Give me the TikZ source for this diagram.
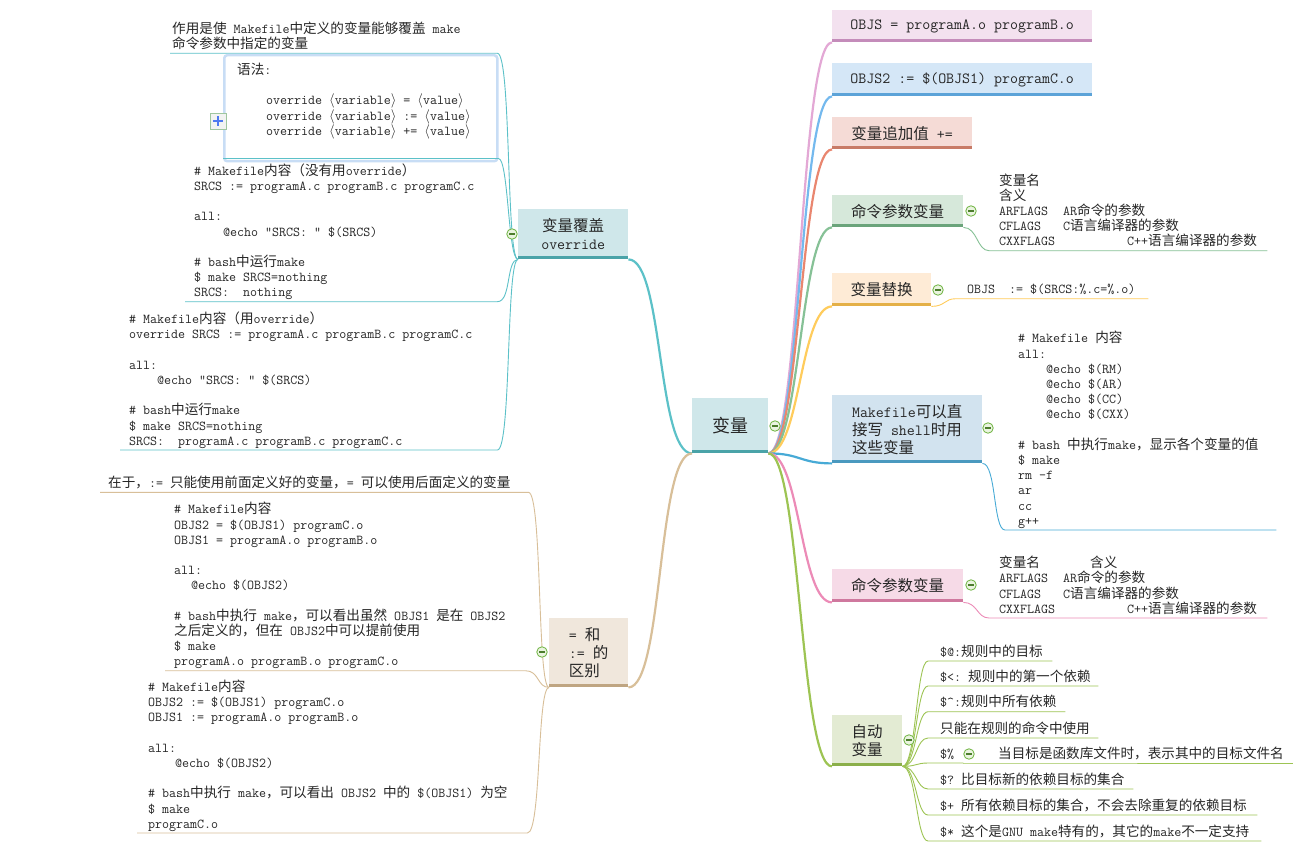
\documentclass[tikz,border=0pt]{standalone}
\usepackage{fontspec}
\newfontfamily\cjk{Noto Sans CJK SC}
% Chinese characters switch to the CJK family, everything else stays typewriter
\XeTeXinterchartokenstate=1
\chardef\zhclass=9
\count255="2E80
\loop\XeTeXcharclass\count255=\zhclass\advance\count255 by 1 \ifnum\count255<"A000 \repeat
\count255="FF00
\loop\XeTeXcharclass\count255=\zhclass\advance\count255 by 1 \ifnum\count255<"FFF0 \repeat
\XeTeXinterchartoks 0 \zhclass={\cjk}
\XeTeXinterchartoks 4095 \zhclass={\cjk}
\XeTeXinterchartoks \zhclass 0={\ttfamily}
\XeTeXinterchartoks \zhclass 4095={\ttfamily}
\newcommand\codetab[1][28pt]{\hspace*{#1}}
\newcommand\openang{\ensuremath{\langle}}
\newcommand\closeang{\ensuremath{\rangle}}
\definecolor{ink}{HTML}{262626}
\definecolor{rootfill}{HTML}{CFE7EA}
\definecolor{rootbar}{HTML}{4AA3A8}
\definecolor{ovrline}{HTML}{5CC1C8}
\definecolor{difffill}{HTML}{F0E7DC}
\definecolor{diffbar}{HTML}{BFA582}
\definecolor{diffline}{HTML}{D8BF99}
\definecolor{objfill}{HTML}{F3E1EF}
\definecolor{objbar}{HTML}{C48CBA}
\definecolor{objline}{HTML}{E3A8D5}
\definecolor{objtwofill}{HTML}{D5E7F7}
\definecolor{objtwobar}{HTML}{5CA3D8}
\definecolor{objtwoline}{HTML}{74B9EE}
\definecolor{appfill}{HTML}{F5DBD6}
\definecolor{appbar}{HTML}{C87B67}
\definecolor{appline}{HTML}{E9866F}
\definecolor{cmdfill}{HTML}{D6E8DA}
\definecolor{cmdbar}{HTML}{6BA47B}
\definecolor{cmdline}{HTML}{86C196}
\definecolor{subfill}{HTML}{FEEBD6}
\definecolor{subbar}{HTML}{E4B048}
\definecolor{subline}{HTML}{FFCC5C}
\definecolor{shfill}{HTML}{D2E3EF}
\definecolor{shbar}{HTML}{4A99BF}
\definecolor{shline}{HTML}{47AAD6}
\definecolor{cmdtwofill}{HTML}{F6DAE7}
\definecolor{cmdtwobar}{HTML}{CF789E}
\definecolor{cmdtwoline}{HTML}{EC8BB7}
\definecolor{autofill}{HTML}{E3EBD3}
\definecolor{autobar}{HTML}{8BAF4A}
\definecolor{autoline}{HTML}{9DC453}
\definecolor{foldgreen}{HTML}{6DB33F}
\definecolor{foldfill}{HTML}{EAF4E0}
\definecolor{synborder}{HTML}{C8DDF5}
\definecolor{plusblue}{HTML}{4F79F0}
\begin{document}
\begin{tikzpicture}[x=1pt,y=-1pt,
    branch/.style={anchor=north west, inner sep=0pt, align=flush center, text=ink,
      font=\fontsize{15.5}{18}\selectfont\ttfamily},
    leaf/.style={anchor=south west, inner ysep=0pt, align=flush left, text=ink,
      font=\fontsize{13.6}{15.2}\selectfont\ttfamily, execute at end node=\strut},
    trunk/.style={line width=2.2pt},
    twig/.style={line width=0.9pt},
    bar/.style={line width=3pt},
    fold/.style={circle, draw=foldgreen, line width=0.8pt, fill=foldfill, minimum size=10.5pt, inner sep=0pt,
      path picture={\draw[foldgreen!70!black, line width=1.3pt]
        ([xshift=-2.6pt]path picture bounding box.center) -- ([xshift=2.6pt]path picture bounding box.center);}},
    synbox/.style={anchor=north west, draw=synborder, line width=2.5pt, rounded corners=3pt, fill=white, inner sep=0pt},
    expand/.style={draw=green!25!gray!60, fill=green!5!gray!10, minimum size=16pt, inner sep=0pt,
      path picture={\draw[plusblue, line width=2.2pt]
        ([xshift=-5pt]path picture bounding box.center) -- ([xshift=5pt]path picture bounding box.center)
        ([yshift=-5pt]path picture bounding box.center) -- ([yshift=5pt]path picture bounding box.center);}}]
  \fill[white] (0,0) rectangle (1296,848);
  \useasboundingbox (0,0) rectangle (1296,848);

  % main topics
  \node[branch, fill=rootfill, minimum width=76pt, minimum height=55pt, font=\fontsize{18}{20}\selectfont\ttfamily] (root) at (692,398) {变量};
  \node[branch, fill=rootfill, minimum width=110pt, minimum height=50pt] (ovr) at (518,209) {变量覆盖\\override};
  \node[branch, fill=difffill, minimum width=79pt, minimum height=69pt, align=flush left] (diff) at (549,618) {= 和\\:= 的\\区别};
  \node[branch, fill=objfill, minimum width=260pt, minimum height=32pt] (objs) at (832,10) {OBJS = programA.o programB.o};
  \node[branch, fill=objtwofill, minimum width=260pt, minimum height=33pt] (objs2) at (832,63) {OBJS2 := \$(OBJS1) programC.o};
  \node[branch, fill=appfill, minimum width=140pt, minimum height=32pt] (append) at (832,117) {变量追加值 +=};
  \node[branch, fill=cmdfill, minimum width=131pt, minimum height=32pt] (cmd) at (832,195) {命令参数变量};
  \node[branch, fill=subfill, minimum width=99pt, minimum height=33pt] (subst) at (832,273) {变量替换};
  \node[branch, fill=shfill, minimum width=150pt, minimum height=68pt, align=flush left] (shell) at (832,395) {Makefile可以直\\接写 shell时用\\这些变量};
  \node[branch, fill=cmdtwofill, minimum width=131pt, minimum height=33pt] (cmd2) at (832,569) {命令参数变量};
  \node[branch, fill=autofill, minimum width=70pt, minimum height=51pt] (auto) at (832,715) {自动\\变量};

  \foreach \n/\c in {objs/objline,objs2/objtwoline,append/appline,cmd/cmdline,subst/subline,shell/shline,cmd2/cmdtwoline,auto/autoline}
    \draw[trunk,\c] (root.south east) .. controls +(32,0) and +(-32,0) .. (\n.south west);
  \draw[trunk,ovrline] (root.south west) .. controls +(-35,0) and +(35,0) .. (ovr.south east);
  \draw[trunk,diffline] (root.south west) .. controls +(-35,0) and +(35,0) .. (diff.south east);
  \foreach \n/\c in {root/rootbar,ovr/rootbar,diff/diffbar,objs/objbar,objs2/objtwobar,append/appbar,cmd/cmdbar,subst/subbar,shell/shbar,cmd2/cmdtwobar,auto/autobar}
    \draw[bar,\c] ([yshift=1.5pt]\n.south west) -- ([yshift=1.5pt]\n.south east);

  % override
  \node[leaf, inner xsep=2pt, text width=323pt] (purpose) at (170,53.3) {作用是使 Makefile中定义的变量能够覆盖 make\\命令参数中指定的变量};
  \draw[twig,ovrline] (purpose.south west) -- (purpose.south east) .. controls +(14,0) and +(-12,0) .. (ovr.south west);
  \node[synbox, minimum width=273pt, minimum height=106pt] (syntax) at (223,54) {};
  \draw[twig,ovrline] ([yshift=4pt]syntax.south west) -- ([yshift=4pt]syntax.south east) .. controls +(10,0) and +(-10,0) .. (ovr.south west);
  \node[leaf, inner sep=0pt, text depth=0pt] (syntext) at (237,135.5) {语法:\\[\baselineskip]
    \codetab[29pt]override \openang variable\closeang{} = \openang value\closeang\\
    \codetab[29pt]override \openang variable\closeang{} := \openang value\closeang\\
    \codetab[29pt]override \openang variable\closeang{} += \openang value\closeang};
  \node[expand] (plus) at (218,121) {};
  \node[leaf, inner xsep=9pt, text width=294pt] (noovr) at (185,301.7) {\# Makefile内容（没有用override）\\
    SRCS := programA.c programB.c programC.c\\[\baselineskip]
    all:\\
    \codetab[29pt]@echo "SRCS: " \$(SRCS)\\[\baselineskip]
    \# bash中运行make\\
    \$ make SRCS=nothing\\
    SRCS:\ \ nothing};
  \node[leaf, inner xsep=9pt, text width=359pt] (withovr) at (120,450) {\# Makefile内容（用override）\\
    override SRCS := programA.c programB.c programC.c\\[\baselineskip]
    all:\\
    \codetab@echo "SRCS: " \$(SRCS)\\[\baselineskip]
    \# bash中运行make\\
    \$ make SRCS=nothing\\
    SRCS:\ \ programA.c programB.c programC.c};
  \foreach \n in {noovr,withovr}
    \draw[twig,ovrline] (\n.south west) -- (\n.south east) .. controls +(14,0) and +(-12,0) .. (ovr.south west);

  % = and :=
  \node[leaf, inner xsep=8pt, text width=412pt] (rule) at (100,492.3) {在于，:=~只能使用前面定义好的变量，=~可以使用后面定义的变量};
  \node[leaf, inner xsep=9pt, text width=342pt] (recur) at (165,670.7) {\# Makefile内容\\
    OBJS2 = \$(OBJS1) programC.o\\
    OBJS1 = programA.o programB.o\\[\baselineskip]
    all:\\
    \codetab[17pt]@echo \$(OBJS2)\\[\baselineskip]
    \# bash中执行 make，可以看出虽然 OBJS1 是在 OBJS2\\
    之后定义的，但在 OBJS2中可以提前使用\\
    \$ make\\
    programA.o programB.o programC.o};
  \node[leaf, inner xsep=11pt, text width=368pt] (simple) at (137,833) {\# Makefile内容\\
    OBJS2 := \$(OBJS1) programC.o\\
    OBJS1 := programA.o programB.o\\[\baselineskip]
    all:\\
    \codetab[27pt]@echo \$(OBJS2)\\[\baselineskip]
    \#~bash中执行~make，可以看出~OBJS2~中的~\$(OBJS1)~为空\\
    \$ make\\
    programC.o};
  \foreach \n in {rule,recur,simple}
    \draw[twig,diffline] (\n.south west) -- (\n.south east) .. controls +(14,0) and +(-12,0) .. (diff.south west);

  % right side details
  \node[leaf, inner xsep=10pt, text width=258pt] (cmdlist) at (989,250.7) {变量名\\含义\\
    \makebox[64pt][l]{ARFLAGS}AR命令的参数\\
    \makebox[64pt][l]{CFLAGS}C语言编译器的参数\\
    \makebox[128pt][l]{CXXFLAGS}C++语言编译器的参数};
  \node[leaf, inner xsep=11pt, text width=170pt] (substtext) at (956,298.7) {OBJS~~:=~\$(SRCS:\%.c=\%.o)};
  \node[leaf, inner xsep=13pt, text width=245pt] (shellcode) at (1005,530) {\# Makefile 内容\\
    all:\\
    \codetab@echo \$(RM)\\
    \codetab@echo \$(AR)\\
    \codetab@echo \$(CC)\\
    \codetab@echo \$(CXX)\\[\baselineskip]
    \#~bash~中执行make，显示各个变量的值\\
    \$ make\\
    rm -f\\
    ar\\
    cc\\
    g++};
  \node[leaf, inner xsep=10pt, text width=258pt] (cmdlist2) at (989,618) {\makebox[91pt][l]{变量名}含义\\
    \makebox[64pt][l]{ARFLAGS}AR命令的参数\\
    \makebox[64pt][l]{CFLAGS}C语言编译器的参数\\
    \makebox[128pt][l]{CXXFLAGS}C++语言编译器的参数};
  \foreach \p/\n/\c in {cmd/cmdlist/cmdline,subst/substtext/subline,shell/shellcode/shline,cmd2/cmdlist2/cmdtwoline}
    \draw[twig,\c] (\p.south east) .. controls +(14,0) and +(-12,0) .. (\n.south west) -- (\n.south east);

  % automatic variables
  \foreach \y/\w/\t [count=\i] in {661/100/{\$@:规则中的目标},686/146/{\$<:~规则中的第一个依赖},711.7/113/{\$\textasciicircum:规则中所有依赖},
      738/146/{只能在规则的命令中使用},763/11/{\$\%},789/181/{\$?~比目标新的依赖目标的集合},
      815/305/{\$+~所有依赖目标的集合，不会去除重复的依赖目标},841/309/{\$*~这个是GNU~make特有的，其它的make不一定支持}}
    \node[leaf, inner xsep=12pt, text width=\w pt] (av\i) at (928,\y) {\t};
  \node[leaf, inner xsep=13pt, text width=282pt] (pctnote) at (985,763) {当目标是函数库文件时，表示其中的目标文件名};
  \foreach \i in {1,...,8}
    \draw[twig,autoline] (auto.south east) .. controls +(14,0) and +(-12,0) .. (av\i.south west) -- (av\i.south east);
  \draw[twig,autoline] (av5.south east) -- (pctnote.south west) -- (pctnote.south east);

  \foreach \x/\y [count=\i] in {775/426,512/234,542/652,971/211,938/290,988/428,971/585,909/740,969/754}
    \node[fold] (fold\i) at (\x,\y) {};
\end{tikzpicture}
\end{document}
